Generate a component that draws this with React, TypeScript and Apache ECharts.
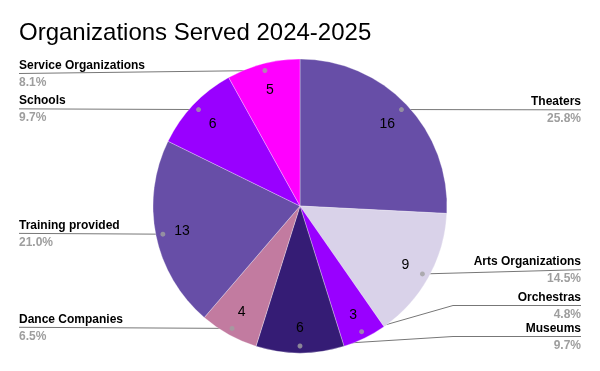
import React, { useEffect, useRef } from 'react';
import * as echarts from 'echarts';

const titleText = 'Organizations Served 2024-2025';
const categories = [
  'Theaters',
  'Arts Organizations',
  'Orchestras',
  'Museums',
  'Dance Companies',
  'Training provided',
  'Schools',
  'Service Organizations',
];
const values = [16, 9, 3, 6, 4, 13, 6, 5];
const colors = ['#674EA7', '#D9D2E9', '#9900FF', '#351C75', '#C27BA0', '#674EA7', '#9900FF', '#FF00FF'];

// layout tweaks (vertical nudges of outside labels, px)
const labelNudge = [1, 2, -19, -19, -2, -1, 0, 4];

const CX = 300;
const CY = 206;
const R = 147;
const DOT_R = 140;
const FONT = '"Liberation Sans", Arial, sans-serif';

export default function App() {
  const ref = useRef<HTMLDivElement>(null);
  useEffect(() => {
    const chart = echarts.init(ref.current!, null, { renderer: 'svg' });
    const total = values.reduce((a, b) => a + b, 0);
    const pieData = categories.map((name, i) => ({ name, value: values[i], itemStyle: { color: colors[i] } }));
    const ghostData = categories.map((name, i) => ({ name, value: values[i], itemStyle: { color: 'rgba(0,0,0,0)' } }));
    const mids: number[] = [];
    let acc = 0;
    values.forEach((v) => {
      mids.push(acc + v / 2);
      acc += v;
    });

    const option: any = {
      animation: false,
      title: {
        text: titleText,
        left: 19,
        top: 19,
        padding: 0,
        textStyle: { fontFamily: FONT, fontSize: 24, fontWeight: 'normal', color: '#000' },
      },
      polar: { center: [CX, CY], radius: DOT_R },
      angleAxis: { type: 'value', min: 0, max: total, startAngle: 90, clockwise: true, show: false },
      radiusAxis: { type: 'value', min: 0, max: 1, show: false },
      series: [
        {
          type: 'pie',
          center: [CX, CY],
          radius: R,
          data: pieData,
          silent: true,
          label: { show: false },
          labelLine: { show: false },
          itemStyle: { borderColor: 'rgba(255,255,255,0.5)', borderWidth: 0.6 },
          emphasis: { disabled: true },
        },
        {
          type: 'pie',
          center: [CX, CY],
          radius: [88, R],
          data: ghostData,
          silent: true,
          emphasis: { disabled: true },
          labelLine: { show: false },
          label: {
            show: true,
            position: 'inside',
            formatter: '{c}',
            fontFamily: FONT,
            fontSize: 14,
            color: '#000',
          },
        },
        {
          type: 'pie',
          center: [CX, CY],
          radius: DOT_R,
          data: ghostData,
          silent: true,
          emphasis: { disabled: true },
          label: {
            show: true,
            alignTo: 'edge',
            edgeDistance: 19,
            formatter: (p: any) => `{n|${p.name}}\n{p|${((p.value / total) * 100).toFixed(1)}%}`,
            rich: {
              n: { fontFamily: FONT, fontSize: 12, fontWeight: 'bold', color: '#000', lineHeight: 17 },
              p: { fontFamily: FONT, fontSize: 12, fontWeight: 'bold', color: '#9E9E9E', lineHeight: 17 },
            },
          },
          labelLine: { show: true, length: 1, length2: 10, lineStyle: { color: '#777', width: 1 } },
          labelLayout: (params: any) => {
            const pts = params.labelLinePoints;
            const rect = params.labelRect;
            if (!pts || !rect) return {};
            const y = rect.y + rect.height / 2 + (labelNudge[params.dataIndex] || 0);
            const right = rect.x > CX;
            const edgeX = right ? rect.x + rect.width : rect.x;
            const p0 = pts[0];
            let linePts;
            if (Math.abs(p0[1] - y) > 5) {
              const bx = CX + (right ? 1 : -1) * (R + 6);
              linePts = [p0, [bx, y], [edgeX, y]];
            } else {
              linePts = [p0, [p0[0], p0[1]], [edgeX, y]];
            }
            return { y, labelLinePoints: linePts };
          },
        },
        {
          type: 'scatter',
          coordinateSystem: 'polar',
          data: mids.map((m) => [1, m]),
          symbolSize: 5,
          itemStyle: { color: '#A0A0A0' },
          silent: true,
          z: 5,
        },
      ],
    };
    chart.setOption(option);
    return () => chart.dispose();
  }, []);
  return <div ref={ref} style={{ position: 'fixed', left: 0, top: 0, width: 600, height: 371 }} />;
}
